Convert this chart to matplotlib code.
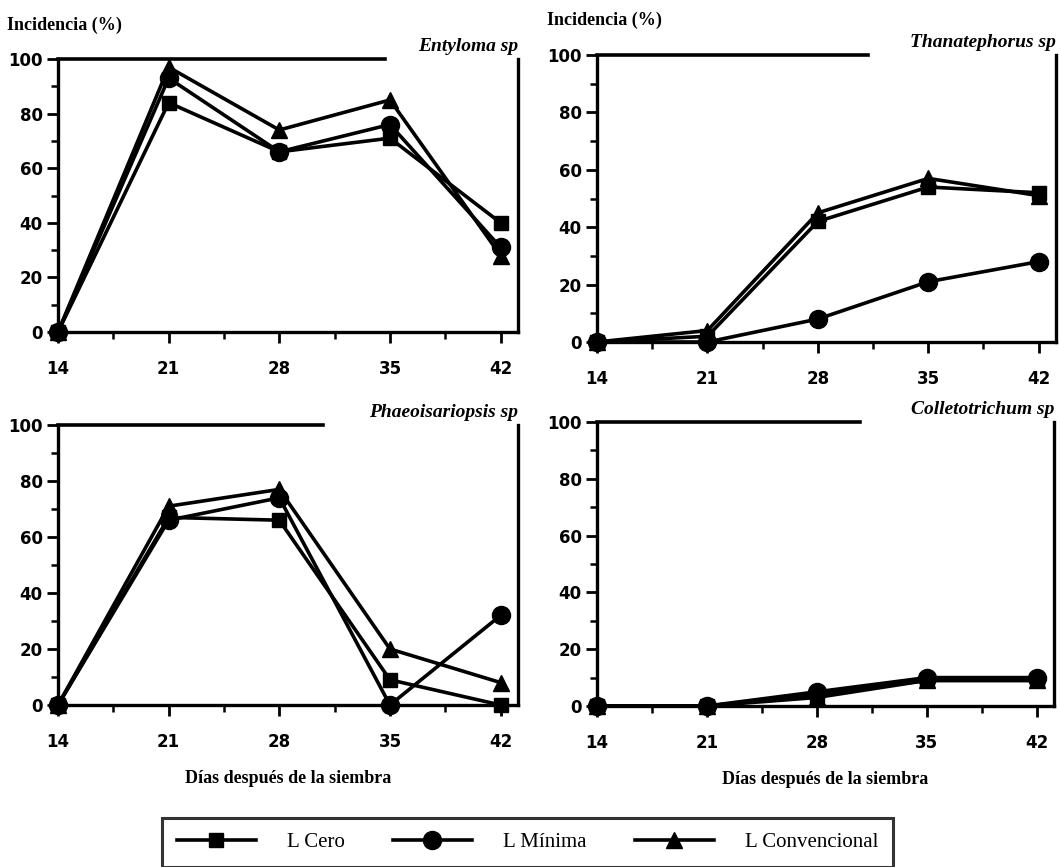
import matplotlib
matplotlib.use("Agg")
import matplotlib.pyplot as plt
from matplotlib.lines import Line2D
from matplotlib.ticker import MultipleLocator

# Days after sowing
dias = [14, 21, 28, 35, 42]

# Incidence (%) per pathogen and tillage system
entyloma_cero = [0, 84, 66, 71, 40]
entyloma_minima = [0, 93, 66, 76, 31]
entyloma_conv = [0, 97, 74, 85, 28]

thanat_cero = [0, 2, 42, 54, 52]
thanat_minima = [0, 0, 8, 21, 28]
thanat_conv = [0, 4, 45, 57, 51]

phaeo_cero = [0, 67, 66, 9, 0]
phaeo_minima = [0, 66, 74, 0, 32]
phaeo_conv = [0, 71, 77, 20, 8]

collet_cero = [0, 0, 4, 9, 9]
collet_minima = [0, 0, 5, 10, 10]
collet_conv = [0, 0, 3, 9, 9]

series_names = ["L Cero", "L Mínima", "L Convencional"]
titles = ["Entyloma sp", "Thanatephorus sp", "Phaeoisariopsis sp", "Colletotrichum sp"]
x_ticks = [14, 21, 28, 35, 42]
y_ticks = [0, 20, 40, 60, 80, 100]

panels = [
    (entyloma_cero, entyloma_minima, entyloma_conv),
    (thanat_cero, thanat_minima, thanat_conv),
    (phaeo_cero, phaeo_minima, phaeo_conv),
    (collet_cero, collet_minima, collet_conv),
]

W, H = 1060, 867
fig = plt.figure(figsize=(W / 100, H / 100), dpi=100)


def px_axes(left, right, top, bottom):
    return fig.add_axes([left / W, 1 - bottom / H, (right - left) / W, (bottom - top) / H])


axes = [
    px_axes(58, 518, 59, 332),
    px_axes(597, 1056, 55, 342),
    px_axes(58, 518, 425, 705),
    px_axes(597, 1054, 422, 706),
]
top_line_frac = [0.71, 0.59, 0.575, 0.575]

markers = ["s", "o", "^"]
msizes = [10, 13, 12]
tick_font = dict(family="DejaVu Sans", weight="bold", size=12)

for i, (ax, data) in enumerate(zip(axes, panels)):
    for vals, mk, ms in zip(data, markers, msizes):
        ax.plot(dias, vals, color="black", lw=2.6, marker=mk, ms=ms,
                markerfacecolor="black", markeredgecolor="black", clip_on=False, zorder=3)
    ax.set_xlim(14, 43.1)
    ax.set_ylim(0, 100)
    ax.set_xticks(x_ticks)
    ax.set_yticks(y_ticks)
    ax.xaxis.set_minor_locator(MultipleLocator(3.5))
    ax.yaxis.set_minor_locator(MultipleLocator(10))
    ax.tick_params(axis="both", which="major", direction="out", length=8, width=2, pad=3)
    ax.tick_params(axis="both", which="minor", direction="out", length=5, width=1.8)
    ax.tick_params(axis="x", which="major", pad=12)
    for lab in ax.get_xticklabels() + ax.get_yticklabels():
        lab.set_fontfamily(tick_font["family"])
        lab.set_fontweight(tick_font["weight"])
        lab.set_fontsize(tick_font["size"])
    # frame: left, bottom and right spines, top rule broken by the title
    ax.spines["top"].set_visible(False)
    for s in ("left", "bottom", "right"):
        ax.spines[s].set_linewidth(2.4)
    ax.add_line(Line2D([0, top_line_frac[i]], [1, 1], transform=ax.transAxes,
                       color="black", lw=2.6, clip_on=False))
    ax.text(1.0, 1.015, titles[i], transform=ax.transAxes, ha="right", va="bottom",
            family="Liberation Serif", style="italic", weight="bold", size=14)

for ax in axes[:2]:
    ax.text(-0.11, 1.09, "Incidencia (%)", transform=ax.transAxes, ha="left", va="bottom",
            family="Liberation Serif", weight="bold", size=13)

for ax in axes[2:]:
    ax.set_xlabel("Días después de la siembra", family="Liberation Serif",
                  weight="bold", size=13, labelpad=14)

handles = [Line2D([], [], color="black", lw=2.6, marker=m, ms=s,
                  markerfacecolor="black") for m, s in zip(markers, msizes)]
leg_top = 1 - 812 / H
leg_bottom = 0.0
leg = fig.legend(handles, series_names, loc="lower left", ncol=3, mode="expand",
                 bbox_to_anchor=(162 / W, leg_bottom, (893 - 162) / W, leg_top - leg_bottom),
                 prop=dict(family="Liberation Serif", size=15), frameon=True,
                 fancybox=False, handlelength=3.8, handletextpad=1.5,
                 columnspacing=2.0, borderpad=0.7, borderaxespad=0)
leg.get_frame().set_edgecolor("black")
leg.get_frame().set_linewidth(2.2)

fig.savefig("out.png", dpi=100)
